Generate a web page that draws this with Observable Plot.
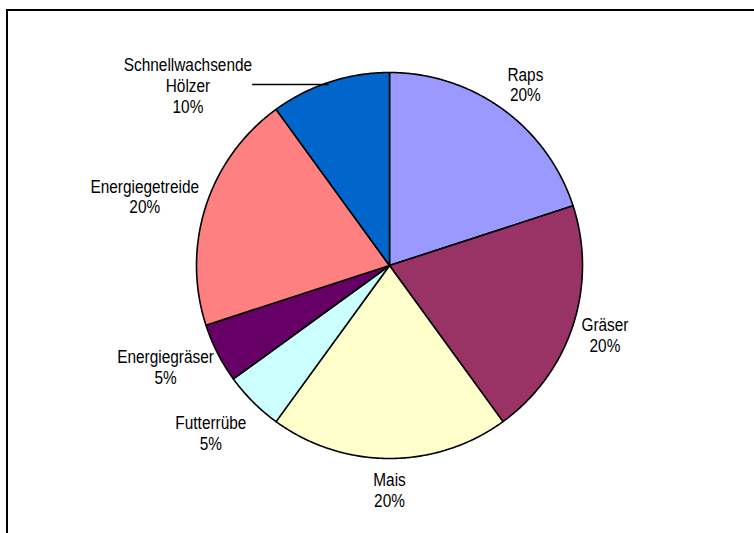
<!DOCTYPE html>
<html>
<head>
<meta charset="utf-8">
<script src="https://cdn.jsdelivr.net/npm/d3@7"></script>
<script src="https://cdn.jsdelivr.net/npm/@observablehq/plot@0.6"></script>
<style>
  html, body { margin: 0; padding: 0; background: #fff; overflow: hidden; }
  #wrap { position: relative; width: 754px; height: 533px; }
  #wrap svg { position: absolute; left: 0; top: 0; }
  #border { position: absolute; left: 6px; top: 9px; width: 900px; height: 700px;
            border-top: 2px solid #000; border-left: 2px solid #000; box-sizing: border-box; }
</style>
</head>
<body>
<div id="wrap"><div id="border"></div></div>
<script>
// ---- data ----
const categories = ["Raps", "Gräser", "Mais", "Futterrübe", "Energiegräser", "Energiegetreide", "Schnellwachsende Hölzer"];
const shares = [20, 20, 20, 5, 5, 20, 10];
const colors = ["#9999FF", "#993366", "#FFFFCC", "#CCFFFF", "#660066", "#FF8080", "#0066CC"];

// ---- layout ----
const W = 754, H = 533;
const ml = 196, mr = 172, mt = 72, mb = 75;
const R = (W - ml - mr) / 2; // pixels per data unit
const fontPx = 15.4, stretch = 1.15, lineStepPx = 21;
const font = `${fontPx}px "Liberation Sans", Arial, sans-serif`;
const ctx = document.createElement("canvas").getContext("2d");
ctx.font = font;

const total = d3.sum(shares);
let acc = 0;
const slices = categories.map((name, i) => {
  const a0 = acc / total * 2 * Math.PI;
  acc += shares[i];
  const a1 = acc / total * 2 * Math.PI;
  return {name, value: shares[i], a0, a1};
});

// polygon points for each slice (angle clockwise from 12 o'clock)
const piePts = [];
for (const s of slices) {
  piePts.push({name: s.name, x: 0, y: 0});
  const n = Math.max(2, Math.ceil((s.a1 - s.a0) / (Math.PI / 360)));
  for (let k = 0; k <= n; k++) {
    const a = s.a0 + (s.a1 - s.a0) * k / n;
    piePts.push({name: s.name, x: Math.sin(a), y: Math.cos(a)});
  }
}

// labels (Excel-like: box placed just outside the pie), with small pixel nudges
const nudges = new Map([
  ["Schnellwachsende Hölzer", [-119, 43]], // label dragged by hand in the original
  ["Futterrübe", [-10, 9]],
  ["Raps", [6, 0]]
]);
const gap = 10;
const labels = slices.map(s => {
  const text = s.name.replace(" ", "\n") + "\n" + Math.round(s.value / total * 100) + "%";
  const lines = text.split("\n");
  const w = d3.max(lines, l => ctx.measureText(l).width);
  const h = lines.length * lineStepPx;
  const m = (s.a0 + s.a1) / 2;
  const ux = Math.sin(m), uy = Math.cos(m);
  let x = ux * (R + gap) / R + ux * (w / 2) / R;
  let y = uy * (R + gap) / R + uy * (h / 2) / R;
  const d = nudges.get(s.name);
  let leader = null;
  if (d) { x += d[0] / R; y -= d[1] / R; }
  if (s.name === "Schnellwachsende Hölzer") {
    const ly = y + 1 / R;
    const lx0 = x + (w / 2) / R;
    const lx1 = -Math.sqrt(1 - ly * ly) + 6 / R;
    leader = {x1: lx0, x2: lx1, y1: ly, y2: ly};
  }
  return {name: s.name, text, x, y, leader};
});
const leaders = labels.filter(l => l.leader).map(l => l.leader);

const chart = Plot.plot({
  width: W, height: H,
  marginLeft: ml, marginRight: mr, marginTop: mt, marginBottom: mb,
  x: {domain: [-1, 1], axis: null},
  y: {domain: [-1, 1], axis: null},
  color: {domain: categories, range: colors},
  style: {background: "transparent", overflow: "visible"},
  marks: [
    Plot.line(piePts, {x: "x", y: "y", z: "name", fill: "name", stroke: "#000", strokeWidth: 1.6, curve: "linear-closed", strokeLinejoin: "round"}),
    Plot.link(leaders, {x1: "x1", y1: "y1", x2: "x2", y2: "y2", stroke: "#000", strokeWidth: 1.3}),
    Plot.text(labels, {x: "x", y: "y", text: "text", fill: "#000", fontSize: fontPx, lineHeight: lineStepPx / stretch / fontPx, lineAnchor: "middle", textAnchor: "middle", fontFamily: '"Liberation Sans", Arial, sans-serif'})
  ]
});

// slight vertical stretch of the label glyphs, as in the original rendering
d3.select(chart).selectAll('g[aria-label="text"] text').each(function() {
  const t = this.getAttribute("transform") || "";
  this.setAttribute("transform", t + ` scale(1,${stretch})`);
});

document.getElementById("wrap").appendChild(chart);
</script>
</body>
</html>
